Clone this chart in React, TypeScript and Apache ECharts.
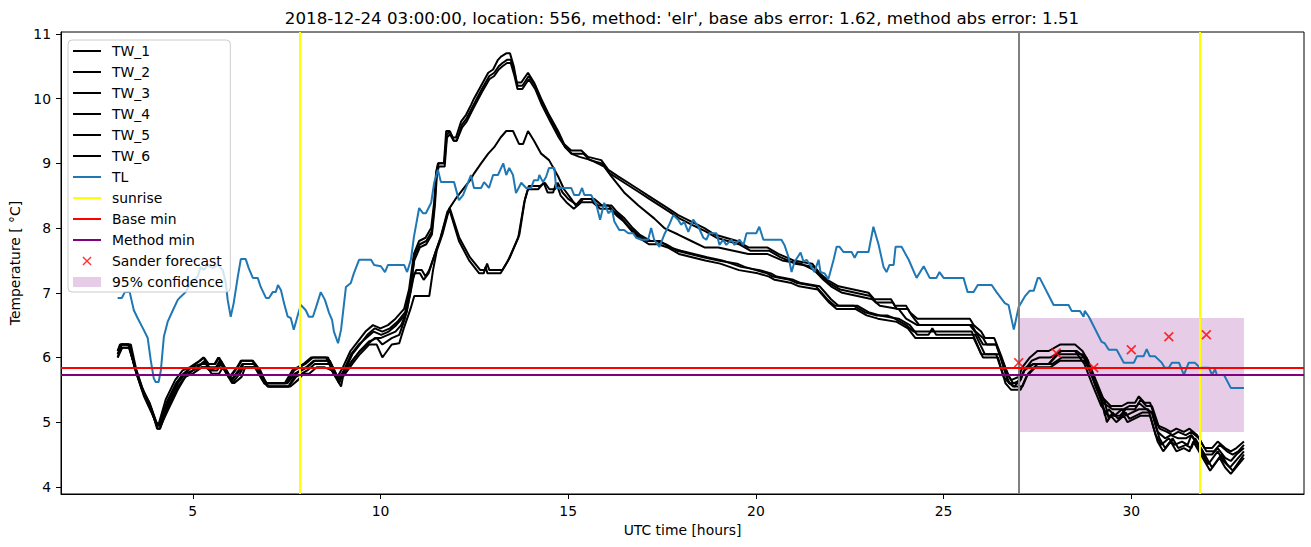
import React, { useEffect, useRef } from 'react';
import * as echarts from 'echarts';

const titleText = "2018-12-24 03:00:00, location: 556, method: 'elr', base abs error: 1.62, method abs error: 1.51";
const xAxisName = 'UTC time [hours]';
const yAxisName = 'Temperature [ °C]';
const xTicks = [5, 10, 15, 20, 25, 30];
const yTicks = [4, 5, 6, 7, 8, 9, 10, 11];
const xRange = [1.49, 34.6];
const yRange = [3.89, 11.03];

const sunriseHours = [7.85, 31.83];
const forecastStartHour = 27;
const baseMin = 5.84;
const methodMin = 5.73;
const forecastHours = [27, 28, 29, 30, 31, 32];
const forecastValues = [5.92, 6.07, 5.84, 6.12, 6.32, 6.35];
const confidenceHours = [27, 33];
const confidenceBounds = [4.85, 6.61];

const tw1: number[][] = [[3.0,6.1],[3.08,6.2],[3.3,6.2],[3.45,5.85],[3.65,5.5],[3.85,5.3],[4.03,5.0],[4.1,4.95],[4.3,5.3],[4.55,5.6],[4.75,5.75],[4.95,5.85],[5.2,5.95],[5.3,6.0],[5.42,5.9],[5.6,5.9],[5.7,6.0],[5.85,5.85],[6.0,5.7],[6.2,5.85],[6.3,5.95],[6.6,5.95],[6.8,5.8],[6.95,5.6],[7.5,5.6],[7.7,5.8],[7.85,5.85],[8.0,5.9],[8.2,6.0],[8.4,6.0],[8.6,6.0],[8.85,5.7],[9.0,5.85],[9.2,6.1],[9.4,6.25],[9.6,6.4],[9.8,6.5],[10.0,6.45],[10.2,6.5],[10.4,6.6],[10.63,6.75],[10.76,7.05],[10.89,7.6],[11.03,7.8],[11.2,7.85],[11.35,8.0],[11.43,8.4],[11.48,8.85],[11.53,9.0],[11.69,9.0],[11.75,9.5],[11.83,9.5],[11.93,9.4],[12.01,9.4],[12.15,9.65],[12.28,9.75],[12.41,9.9],[12.49,10.0],[12.68,10.2],[12.87,10.4],[13.0,10.45],[13.13,10.6],[13.21,10.65],[13.35,10.7],[13.45,10.7],[13.55,10.5],[13.63,10.25],[13.75,10.25],[13.93,10.4],[14.09,10.25],[14.28,10.0],[14.49,9.75],[14.73,9.5],[14.89,9.3],[15.08,9.2],[15.35,9.2],[15.53,9.1],[15.88,9.05],[16.07,8.9],[16.33,8.8],[16.6,8.7],[16.87,8.6],[17.13,8.5],[17.4,8.4],[17.67,8.3],[17.93,8.2],[18.28,8.1],[18.63,8.0],[18.9,7.9],[19.5,7.8],[19.8,7.7],[20.3,7.7],[20.6,7.6],[21.0,7.5],[21.5,7.45],[21.7,7.3],[21.9,7.2],[22.2,7.1],[22.6,7.05],[23.0,7.0],[23.15,6.9],[23.6,6.9],[23.7,6.8],[24.0,6.8],[24.1,6.7],[24.3,6.6],[25.7,6.6],[25.8,6.5],[26.0,6.4],[26.1,6.3],[26.35,6.3],[26.55,6.0],[26.7,5.75],[26.8,5.65],[27.0,5.7],[27.1,5.85],[27.3,6.0],[27.5,6.1],[27.8,6.1],[28.1,6.2],[28.5,6.2],[28.7,6.1],[28.85,5.95],[29.0,5.65],[29.2,5.4],[29.45,5.25],[29.75,5.25],[29.9,5.3],[30.1,5.3],[30.2,5.4],[30.35,5.3],[30.5,5.3],[30.7,4.95],[30.9,4.9],[31.05,4.85],[31.2,4.9],[31.4,4.85],[31.55,4.9],[31.75,4.8],[31.95,4.6],[32.15,4.6],[32.3,4.7],[32.5,4.6],[32.65,4.55],[32.8,4.6],[33.0,4.7]];

const tw2: number[][] = [[3.0,6.0],[3.1,6.2],[3.35,6.2],[3.5,5.8],[3.7,5.45],[3.9,5.2],[4.05,4.9],[4.12,4.9],[4.35,5.3],[4.6,5.6],[4.8,5.75],[5.0,5.8],[5.25,5.9],[5.35,5.9],[5.45,5.8],[5.65,5.85],[5.75,5.95],[5.9,5.8],[6.05,5.65],[6.25,5.8],[6.35,5.9],[6.65,5.9],[6.85,5.7],[7.0,5.55],[7.55,5.55],[7.75,5.75],[7.9,5.8],[8.05,5.85],[8.25,5.95],[8.45,5.95],[8.65,5.95],[8.9,5.65],[9.05,5.8],[9.25,6.05],[9.45,6.2],[9.65,6.35],[9.85,6.45],[10.05,6.4],[10.25,6.45],[10.45,6.55],[10.66,6.7],[10.8,7.1],[10.92,7.6],[11.05,7.75],[11.22,7.8],[11.37,7.95],[11.45,8.45],[11.5,8.9],[11.55,9.0],[11.7,9.0],[11.77,9.45],[11.85,9.5],[11.95,9.35],[12.03,9.35],[12.17,9.6],[12.3,9.7],[12.43,9.85],[12.52,9.95],[12.7,10.15],[12.9,10.35],[13.03,10.4],[13.15,10.5],[13.25,10.55],[13.37,10.6],[13.47,10.6],[13.57,10.4],[13.65,10.2],[13.78,10.2],[13.95,10.35],[14.12,10.2],[14.3,9.95],[14.52,9.7],[14.75,9.45],[14.92,9.25],[15.1,9.15],[15.4,9.15],[15.58,9.05],[15.9,9.0],[16.1,8.85],[16.36,8.75],[16.63,8.65],[16.9,8.55],[17.16,8.45],[17.43,8.35],[17.7,8.25],[17.96,8.15],[18.3,8.05],[18.66,7.95],[18.95,7.85],[19.55,7.75],[19.85,7.65],[20.35,7.65],[20.65,7.55],[21.05,7.45],[21.55,7.4],[21.75,7.25],[21.95,7.15],[22.25,7.05],[22.65,7.0],[23.05,6.95],[23.2,6.85],[23.65,6.85],[23.75,6.75],[24.05,6.75],[24.15,6.65],[24.35,6.5],[25.75,6.5],[25.85,6.4],[26.05,6.3],[26.15,6.2],[26.4,6.2],[26.6,5.9],[26.75,5.7],[26.85,5.6],[27.05,5.65],[27.15,5.8],[27.35,5.95],[27.55,6.0],[27.85,6.0],[28.15,6.1],[28.55,6.1],[28.75,6.0],[28.9,5.85],[29.05,5.55],[29.25,5.3],[29.5,5.2],[29.8,5.2],[29.95,5.25],[30.15,5.25],[30.25,5.35],[30.4,5.25],[30.55,5.25],[30.75,4.9],[30.95,4.85],[31.1,4.8],[31.25,4.85],[31.45,4.8],[31.6,4.85],[31.8,4.75],[32.0,4.55],[32.2,4.55],[32.35,4.65],[32.55,4.55],[32.7,4.5],[32.85,4.55],[33.0,4.65]];

const tw3: number[][] = [[3.0,6.05],[3.08,6.15],[3.3,6.15],[3.46,5.85],[3.66,5.5],[3.86,5.25],[4.04,4.95],[4.12,4.95],[4.32,5.3],[4.57,5.6],[4.77,5.75],[4.97,5.85],[5.22,5.9],[5.32,5.95],[5.44,5.85],[5.62,5.85],[5.72,5.95],[5.87,5.8],[6.02,5.65],[6.22,5.8],[6.32,5.9],[6.62,5.9],[6.82,5.75],[6.97,5.6],[7.52,5.6],[7.72,5.75],[7.87,5.8],[8.02,5.85],[8.22,5.95],[8.42,5.95],[8.62,5.95],[8.87,5.65],[9.02,5.8],[9.22,6.05],[9.42,6.2],[9.62,6.3],[9.82,6.4],[10.02,6.35],[10.22,6.4],[10.42,6.5],[10.65,6.65],[10.78,7.0],[10.9,7.5],[11.05,7.7],[11.22,7.75],[11.37,7.9],[11.45,8.35],[11.5,8.8],[11.55,8.95],[11.71,8.95],[11.77,9.4],[11.85,9.45],[11.95,9.35],[12.03,9.35],[12.17,9.55],[12.3,9.65],[12.43,9.8],[12.52,9.9],[12.7,10.1],[12.9,10.3],[13.03,10.35],[13.15,10.45],[13.25,10.5],[13.37,10.55],[13.47,10.55],[13.57,10.35],[13.65,10.15],[13.78,10.15],[13.95,10.3],[14.12,10.15],[14.3,9.9],[14.52,9.65],[14.75,9.4],[14.92,9.25],[15.08,9.15],[15.3,9.1],[15.61,9.05],[15.96,8.95],[16.15,8.8],[16.49,8.55],[16.87,8.35],[17.29,8.15],[17.56,8.0],[17.93,7.9],[18.28,7.8],[18.63,7.7],[19.0,7.7],[19.4,7.65],[19.8,7.6],[20.3,7.6],[20.7,7.5],[21.2,7.45],[21.55,7.35],[21.8,7.2],[22.0,7.1],[22.3,7.0],[22.7,6.95],[23.1,6.9],[23.3,6.8],[23.8,6.75],[24.0,6.6],[24.3,6.5],[25.7,6.5],[25.9,6.35],[26.05,6.2],[26.4,6.2],[26.6,5.85],[26.75,5.6],[26.9,5.55],[27.05,5.7],[27.2,5.85],[27.4,5.9],[27.8,5.9],[28.1,6.1],[28.5,6.1],[28.75,5.9],[28.95,5.6],[29.2,5.25],[29.4,5.1],[29.7,5.1],[29.85,5.2],[30.1,5.2],[30.2,5.3],[30.4,5.2],[30.55,5.15],[30.7,4.85],[30.9,4.75],[31.05,4.8],[31.25,4.75],[31.45,4.75],[31.6,4.8],[31.8,4.65],[31.95,4.5],[32.15,4.5],[32.3,4.6],[32.5,4.45],[32.65,4.4],[32.8,4.5],[33.0,4.6]];

const tw4: number[][] = [[3.0,6.05],[3.1,6.2],[3.3,6.2],[3.48,5.8],[3.68,5.45],[3.88,5.2],[4.07,4.9],[4.13,4.9],[4.35,5.25],[4.6,5.55],[4.8,5.7],[5.0,5.8],[5.25,5.85],[5.35,5.85],[5.45,5.8],[5.65,5.8],[5.75,5.9],[5.9,5.75],[6.05,5.6],[6.25,5.75],[6.35,5.85],[6.65,5.85],[6.85,5.65],[7.0,5.55],[7.55,5.55],[7.75,5.7],[7.9,5.75],[8.05,5.8],[8.25,5.9],[8.45,5.9],[8.65,5.9],[8.9,5.6],[9.0,5.75],[9.25,5.95],[9.45,6.1],[9.65,6.2],[9.85,6.3],[10.0,6.3],[10.2,6.35],[10.4,6.4],[10.55,6.5],[10.7,6.7],[10.85,7.2],[10.95,7.35],[11.1,7.35],[11.2,7.25],[11.3,7.35],[11.45,7.6],[11.6,7.85],[11.7,8.05],[11.83,8.3],[12.0,8.45],[12.2,8.6],[12.4,8.75],[12.5,8.85],[12.68,9.0],[12.87,9.15],[13.03,9.25],[13.2,9.4],[13.35,9.5],[13.53,9.5],[13.69,9.3],[13.8,9.3],[13.93,9.5],[14.09,9.35],[14.28,9.15],[14.49,9.05],[14.73,8.8],[14.89,8.6],[15.08,8.45],[15.2,8.35],[15.35,8.45],[15.61,8.45],[15.8,8.35],[16.07,8.35],[16.23,8.25],[16.43,8.15],[16.65,8.0],[16.83,7.9],[17.1,7.8],[17.35,7.8],[17.6,7.75],[17.9,7.65],[18.25,7.6],[18.6,7.55],[19.0,7.5],[19.5,7.45],[19.7,7.4],[20.0,7.35],[20.3,7.3],[20.45,7.25],[20.9,7.2],[21.1,7.15],[21.6,7.1],[21.75,7.0],[21.9,6.9],[22.1,6.8],[22.6,6.8],[22.9,6.7],[23.2,6.65],[23.5,6.65],[23.7,6.6],[24.0,6.5],[24.2,6.4],[25.75,6.4],[26.0,6.05],[26.4,6.05],[26.6,5.7],[26.75,5.6],[27.0,5.6],[27.15,5.8],[27.4,5.9],[27.8,5.9],[28.05,6.05],[28.7,6.05],[28.85,5.85],[29.2,5.35],[29.3,5.1],[29.4,5.2],[29.55,5.1],[29.75,5.2],[29.85,5.1],[30.2,5.2],[30.45,5.2],[30.65,4.8],[30.8,4.65],[31.0,4.75],[31.15,4.65],[31.35,4.7],[31.5,4.65],[31.6,4.8],[31.9,4.5],[32.05,4.35],[32.3,4.55],[32.45,4.4],[32.63,4.3],[33.0,4.55]];

const tw5: number[][] = [[3.0,6.0],[3.12,6.15],[3.32,6.15],[3.5,5.75],[3.7,5.4],[3.9,5.15],[4.05,4.95],[4.15,4.95],[4.35,5.2],[4.6,5.5],[4.8,5.7],[5.0,5.75],[5.25,5.85],[5.4,5.85],[5.5,5.75],[5.7,5.75],[5.8,5.85],[5.95,5.7],[6.1,5.6],[6.3,5.7],[6.4,5.85],[6.7,5.85],[6.9,5.6],[7.05,5.55],[7.6,5.55],[7.8,5.65],[7.95,5.75],[8.1,5.75],[8.3,5.85],[8.5,5.85],[8.7,5.8],[8.95,5.55],[9.0,5.7],[9.25,5.9],[9.45,6.05],[9.7,6.2],[9.9,6.2],[10.05,6.0],[10.3,6.2],[10.5,6.22],[10.62,6.45],[10.8,6.75],[10.9,6.95],[11.3,6.95],[11.4,7.35],[11.5,7.65],[11.65,7.9],[11.83,8.3],[12.09,7.8],[12.36,7.5],[12.63,7.3],[12.75,7.3],[12.8,7.4],[12.85,7.3],[13.2,7.3],[13.4,7.5],[13.67,7.85],[13.83,8.4],[13.93,8.6],[14.2,8.6],[14.35,8.7],[14.45,8.55],[14.6,8.55],[14.68,8.7],[14.8,8.5],[14.95,8.4],[15.15,8.3],[15.35,8.4],[15.65,8.4],[15.85,8.3],[16.1,8.3],[16.28,8.2],[16.48,8.1],[16.7,7.95],[16.88,7.85],[17.15,7.75],[17.4,7.75],[17.65,7.7],[17.95,7.6],[18.3,7.55],[18.65,7.5],[19.05,7.45],[19.55,7.35],[20.05,7.3],[20.35,7.25],[20.5,7.2],[20.95,7.15],[21.15,7.1],[21.65,7.05],[21.8,6.95],[21.95,6.85],[22.15,6.75],[22.65,6.75],[22.95,6.65],[23.25,6.6],[23.75,6.55],[24.05,6.45],[24.25,6.3],[25.8,6.3],[26.05,6.0],[26.45,6.0],[26.65,5.6],[26.8,5.5],[27.05,5.5],[27.2,5.7],[27.45,5.85],[27.85,5.85],[28.1,5.95],[28.75,5.95],[28.9,5.8],[29.25,5.25],[29.35,5.0],[29.45,5.1],[29.6,5.0],[29.8,5.1],[29.9,5.0],[30.25,5.1],[30.5,5.1],[30.7,4.7],[30.85,4.55],[31.05,4.7],[31.2,4.55],[31.4,4.6],[31.55,4.55],[31.65,4.7],[31.95,4.4],[32.1,4.25],[32.35,4.45],[32.5,4.3],[32.65,4.2],[33.0,4.45]];

const tw6: number[][] = [[3.0,6.1],[3.06,6.2],[3.28,6.2],[3.44,5.9],[3.64,5.55],[3.84,5.3],[4.02,5.0],[4.08,4.95],[4.28,5.35],[4.53,5.65],[4.73,5.8],[4.93,5.85],[5.18,5.95],[5.28,6.0],[5.4,5.9],[5.58,5.9],[5.68,6.0],[5.83,5.85],[5.98,5.7],[6.18,5.85],[6.28,5.95],[6.58,5.95],[6.78,5.8],[6.93,5.6],[7.45,5.6],[7.65,5.8],[7.8,5.85],[7.95,5.9],[8.15,6.0],[8.35,6.0],[8.55,6.0],[8.8,5.7],[9.0,5.75],[9.25,5.95],[9.45,6.1],[9.7,6.25],[9.9,6.3],[10.05,6.2],[10.3,6.3],[10.5,6.35],[10.65,6.6],[10.8,7.0],[10.9,7.3],[11.05,7.3],[11.15,7.2],[11.28,7.3],[11.45,7.6],[11.6,7.85],[11.78,8.25],[11.85,8.3],[12.1,7.85],[12.38,7.55],[12.66,7.35],[12.78,7.35],[12.84,7.45],[12.9,7.35],[13.25,7.35],[13.45,7.55],[13.7,7.9],[13.85,8.45],[13.95,8.65],[14.25,8.65],[14.38,8.7],[14.5,8.6],[14.65,8.6],[14.72,8.7],[14.85,8.55],[15.0,8.45],[15.25,8.35],[15.4,8.45],[15.7,8.45],[15.9,8.35],[16.15,8.35],[16.3,8.25],[16.5,8.15],[16.72,8.0],[16.9,7.9],[17.2,7.8],[17.45,7.8],[17.7,7.7],[18.0,7.65],[18.35,7.6],[18.7,7.55],[19.1,7.5],[19.6,7.4],[20.1,7.35],[20.4,7.3],[20.55,7.25],[21.0,7.2],[21.2,7.15],[21.7,7.1],[21.85,7.0],[22.0,6.9],[22.2,6.8],[22.7,6.8],[23.0,6.7],[23.3,6.65],[23.8,6.6],[24.1,6.5],[24.3,6.35],[24.6,6.35],[24.7,6.45],[24.8,6.35],[25.85,6.35],[26.1,6.05],[26.5,6.05],[26.7,5.65],[26.85,5.55],[27.1,5.55],[27.25,5.75],[27.5,5.9],[27.9,5.9],[28.15,6.0],[28.8,6.0],[28.95,5.8],[29.3,5.3],[29.4,5.05],[29.5,5.15],[29.65,5.05],[29.85,5.15],[29.95,5.05],[30.3,5.15],[30.55,5.15],[30.75,4.75],[30.9,4.6],[31.1,4.75],[31.25,4.6],[31.45,4.65],[31.6,4.6],[31.7,4.75],[32.0,4.45],[32.15,4.3],[32.4,4.5],[32.55,4.35],[32.7,4.25],[33.0,4.5]];

const tl: number[][] = [[3.0,6.92],[3.11,6.92],[3.19,7.01],[3.32,7.01],[3.43,6.73],[3.53,6.61],[3.69,6.43],[3.80,6.30],[3.88,5.96],[3.96,5.68],[4.01,5.62],[4.09,5.62],[4.15,5.8],[4.23,6.32],[4.33,6.55],[4.47,6.73],[4.60,6.89],[4.68,6.94],[4.81,7.01],[4.95,7.15],[5.13,7.25],[5.21,7.4],[5.29,7.35],[5.40,7.43],[5.53,7.38],[5.67,7.43],[5.80,7.35],[5.88,7.15],[5.93,6.89],[6.01,6.63],[6.09,6.84],[6.20,7.25],[6.28,7.52],[6.41,7.52],[6.49,7.38],[6.60,7.23],[6.73,7.23],[6.81,7.09],[6.95,6.92],[7.03,6.92],[7.13,7.01],[7.21,7.01],[7.27,7.12],[7.35,7.04],[7.43,6.84],[7.53,6.63],[7.61,6.61],[7.69,6.43],[7.80,6.66],[7.88,6.81],[8.01,6.73],[8.09,6.63],[8.20,6.63],[8.28,6.77],[8.41,7.01],[8.52,6.89],[8.63,6.69],[8.71,6.58],[8.76,6.4],[8.87,6.22],[8.95,6.43],[9.08,7.09],[9.21,7.15],[9.29,7.3],[9.43,7.51],[9.75,7.51],[9.83,7.43],[10.01,7.41],[10.12,7.32],[10.20,7.43],[10.63,7.43],[10.71,7.32],[10.81,7.51],[10.89,7.86],[11.03,8.31],[11.13,8.23],[11.21,8.23],[11.35,8.39],[11.43,8.70],[11.53,8.9],[11.61,8.71],[11.96,8.71],[12.09,8.43],[12.20,8.51],[12.41,8.82],[12.49,8.62],[12.68,8.62],[12.76,8.71],[12.89,8.62],[13.00,8.82],[13.13,8.82],[13.27,9.0],[13.35,8.82],[13.43,8.93],[13.53,8.82],[13.61,8.54],[13.75,8.70],[13.88,8.62],[14.01,8.62],[14.09,8.74],[14.20,8.74],[14.23,8.82],[14.33,8.71],[14.41,8.79],[14.49,8.93],[14.63,8.93],[14.68,8.62],[15.08,8.62],[15.16,8.51],[15.29,8.51],[15.37,8.62],[15.43,8.51],[15.61,8.51],[15.75,8.36],[15.85,8.13],[15.96,8.39],[16.07,8.23],[16.17,8.28],[16.23,8.1],[16.36,7.97],[16.49,7.97],[16.60,7.92],[16.73,7.92],[16.81,7.85],[16.95,7.82],[17.13,7.82],[17.21,8.0],[17.29,7.82],[17.43,7.71],[17.56,7.9],[17.69,8.05],[17.80,8.2],[17.93,8.13],[18.01,8.05],[18.09,8.1],[18.20,7.94],[18.33,8.13],[18.47,8.02],[18.60,7.85],[18.68,7.82],[18.76,7.92],[18.95,7.92],[19.03,7.74],[19.13,7.82],[19.21,7.74],[19.35,7.82],[19.43,7.74],[19.56,7.82],[19.67,7.74],[19.75,7.92],[20.01,7.92],[20.09,8.02],[20.20,7.82],[20.68,7.82],[20.76,7.74],[20.87,7.55],[20.95,7.32],[21.03,7.48],[21.19,7.62],[21.27,7.48],[21.35,7.51],[21.48,7.40],[21.56,7.32],[21.67,7.51],[21.72,7.32],[21.83,7.3],[21.93,7.21],[22.07,7.51],[22.15,7.71],[22.23,7.71],[22.33,7.63],[22.55,7.63],[22.63,7.54],[22.71,7.63],[23.00,7.63],[23.13,8.02],[23.27,7.74],[23.40,7.4],[23.48,7.32],[23.56,7.43],[23.67,7.43],[23.72,7.71],[23.88,7.71],[24.07,7.51],[24.28,7.23],[24.47,7.41],[24.63,7.23],[24.81,7.23],[24.89,7.32],[25.00,7.23],[25.53,7.23],[25.64,7.01],[25.80,7.01],[25.91,7.12],[26.28,7.12],[26.41,7.01],[26.63,6.84],[26.73,6.81],[26.87,6.43],[27.00,6.78],[27.16,6.94],[27.29,7.03],[27.40,7.03],[27.51,7.23],[27.56,7.23],[27.93,6.81],[28.33,6.81],[28.41,6.72],[28.63,6.72],[28.73,6.63],[28.76,6.72],[28.87,6.63],[29.21,6.24],[29.29,6.22],[29.40,6.12],[29.61,6.12],[29.80,5.92],[30.07,5.92],[30.15,6.02],[30.33,6.02],[30.41,6.13],[30.49,6.02],[30.63,6.02],[30.81,5.92],[30.89,5.84],[31.00,5.84],[31.08,5.92],[31.27,5.92],[31.40,5.73],[31.53,5.92],[31.69,5.92],[31.83,5.84],[32.07,5.84],[32.15,5.73],[32.23,5.82],[32.28,5.73],[32.47,5.73],[32.65,5.53],[33.00,5.53]];

const twNames = ['TW_1', 'TW_2', 'TW_3', 'TW_4', 'TW_5', 'TW_6'];
const twData = [tw1, tw2, tw3, tw4, tw5, tw6];

const FONT = 'DejaVu Sans';
const X_SYMBOL = 'path://M1.2,0 L5,3.8 L8.8,0 L10,1.2 L6.2,5 L10,8.8 L8.8,10 L5,6.2 L1.2,10 L0,8.8 L3.8,5 L0,1.2 Z';
const X_LEGEND = 'path://M0,0 L0.01,0 L0,0.01 Z M17,17 L16.99,17 L17,16.99 Z M4.2,3 L8.5,7.3 L12.8,3 L14,4.2 L9.7,8.5 L14,12.8 L12.8,14 L8.5,9.7 L4.2,14 L3,12.8 L7.3,8.5 L3,4.2 Z';
const RECT_LEGEND = 'path://M0,0 L28,0 L28,10 L0,10 Z';
const LINE_LEGEND = 'path://M0,0 L28,0 L28,2 L0,2 Z';

function buildOption() {
  const lineSeries: any[] = twNames.map((name, i) => ({
    name,
    type: 'line',
    data: twData[i],
    symbol: 'none',
    showSymbol: false,
    color: '#000000',
    lineStyle: { color: '#000000', width: 2 },
    z: 3,
    silent: true,
  }));

  const markLineBase = {
    silent: true,
    symbol: ['none', 'none'],
    label: { show: false },
    emphasis: { disabled: true },
  };

  const series: any[] = [
    {
      name: '95% confidence',
      type: 'line',
      data: [],
      symbol: 'none',
      color: '#e6cce6',
      itemStyle: { color: '#e6cce6' },
      z: 1,
      markArea: {
        silent: true,
        itemStyle: { color: 'rgba(128,0,128,0.2)' },
        data: [[
          { xAxis: confidenceHours[0], yAxis: confidenceBounds[0] },
          { xAxis: confidenceHours[1], yAxis: confidenceBounds[1] },
        ]],
      },
    },
    {
      name: 'forecast time',
      type: 'line',
      data: [],
      symbol: 'none',
      z: 2,
      markLine: {
        ...markLineBase,
        lineStyle: { color: '#808080', type: 'solid', width: 2 },
        data: [{ xAxis: forecastStartHour }],
      },
    },
    ...lineSeries,
    {
      name: 'TL',
      type: 'line',
      data: tl,
      symbol: 'none',
      showSymbol: false,
      color: '#1f77b4',
      lineStyle: { color: '#1f77b4', width: 2 },
      z: 4,
      silent: true,
    },
    {
      name: 'sunrise',
      type: 'line',
      data: [],
      symbol: 'none',
      color: '#ffff00',
      lineStyle: { color: '#ffff00', width: 2 },
      z: 5,
      markLine: {
        ...markLineBase,
        lineStyle: { color: '#ffff00', type: 'solid', width: 2 },
        data: sunriseHours.map((h) => ({ xAxis: h })),
      },
    },
    {
      name: 'Base min',
      type: 'line',
      data: [],
      symbol: 'none',
      color: '#ff0000',
      lineStyle: { color: '#ff0000', width: 2 },
      z: 5,
      markLine: {
        ...markLineBase,
        lineStyle: { color: '#ff0000', type: 'solid', width: 2 },
        data: [{ yAxis: baseMin }],
      },
    },
    {
      name: 'Method min',
      type: 'line',
      data: [],
      symbol: 'none',
      color: '#800080',
      lineStyle: { color: '#800080', width: 2 },
      z: 5,
      markLine: {
        ...markLineBase,
        lineStyle: { color: '#800080', type: 'solid', width: 2 },
        data: [{ yAxis: methodMin }],
      },
    },
    {
      name: 'Sander forecast',
      type: 'scatter',
      data: forecastHours.map((h, i) => [h, forecastValues[i]]),
      symbol: X_SYMBOL,
      symbolSize: 10,
      color: '#ff0000',
      itemStyle: { color: '#ff0000' },
      z: 6,
      silent: true,
    },
  ];

  const legendNames = [...twNames, 'TL', 'sunrise', 'Base min', 'Method min', 'Sander forecast', '95% confidence'];
  const legendData = legendNames.map((name) => {
    if (name === 'Sander forecast') return { name, icon: X_LEGEND, itemStyle: { borderWidth: 0 } };
    if (name === '95% confidence') return { name, icon: RECT_LEGEND, itemStyle: { borderWidth: 0 } };
    return { name, icon: LINE_LEGEND, itemStyle: { borderWidth: 0 } };
  });

  const axisText = { fontSize: 13.9, fontFamily: FONT, color: '#000000' };

  return {
    animation: false,
    backgroundColor: '#ffffff',
    title: {
      text: titleText,
      left: 677,
      top: 5,
      textAlign: 'center',
      textStyle: { fontSize: 16.67, fontWeight: 'normal', fontFamily: FONT, color: '#000000' },
    },
    legend: {
      orient: 'vertical',
      left: 68,
      top: 40,
      padding: [4, 7, 3, 5],
      itemWidth: 28,
      itemHeight: 14,
      itemGap: 7,
      selectedMode: false,
      backgroundColor: 'rgba(255,255,255,0.8)',
      borderColor: '#cccccc',
      borderWidth: 1,
      borderRadius: 4,
      itemStyle: { borderWidth: 0 },
      textStyle: { fontSize: 13.9, fontFamily: FONT, color: '#000000', padding: [0, 0, 0, 6] },
      data: legendData,
      z: 20,
    },
    grid: {
      left: 61,
      right: 7,
      top: 32,
      bottom: 53,
      show: true,
      borderColor: '#000000',
      borderWidth: 1,
      backgroundColor: 'transparent',
    },
    xAxis: {
      type: 'value',
      min: xRange[0],
      max: xRange[1],
      name: xAxisName,
      nameLocation: 'middle',
      nameGap: 29,
      nameTextStyle: axisText,
      axisLine: { show: true, lineStyle: { color: '#000000', width: 1 } },
      axisTick: { show: true, length: 5, customValues: xTicks, lineStyle: { color: '#000000', width: 1 } },
      axisLabel: { customValues: xTicks, margin: 10, ...axisText },
      splitLine: { show: false },
    },
    yAxis: {
      type: 'value',
      min: yRange[0],
      max: yRange[1],
      name: yAxisName,
      nameLocation: 'middle',
      nameGap: 36,
      nameTextStyle: axisText,
      axisLine: { show: true, lineStyle: { color: '#000000', width: 1 } },
      axisTick: { show: true, length: 5, customValues: yTicks, lineStyle: { color: '#000000', width: 1 } },
      axisLabel: { customValues: yTicks, margin: 10, ...axisText },
      splitLine: { show: false },
    },
    series,
  };
}

export default function App() {
  const ref = useRef<HTMLDivElement>(null);
  useEffect(() => {
    if (!ref.current) return;
    const chart = echarts.init(ref.current, undefined, { renderer: 'svg' });
    chart.setOption(buildOption() as any);
    return () => {
      chart.dispose();
    };
  }, []);
  return (
    <div
      ref={ref}
      style={{ position: 'fixed', left: 0, top: 0, width: 1311, height: 547, background: '#ffffff' }}
    />
  );
}
